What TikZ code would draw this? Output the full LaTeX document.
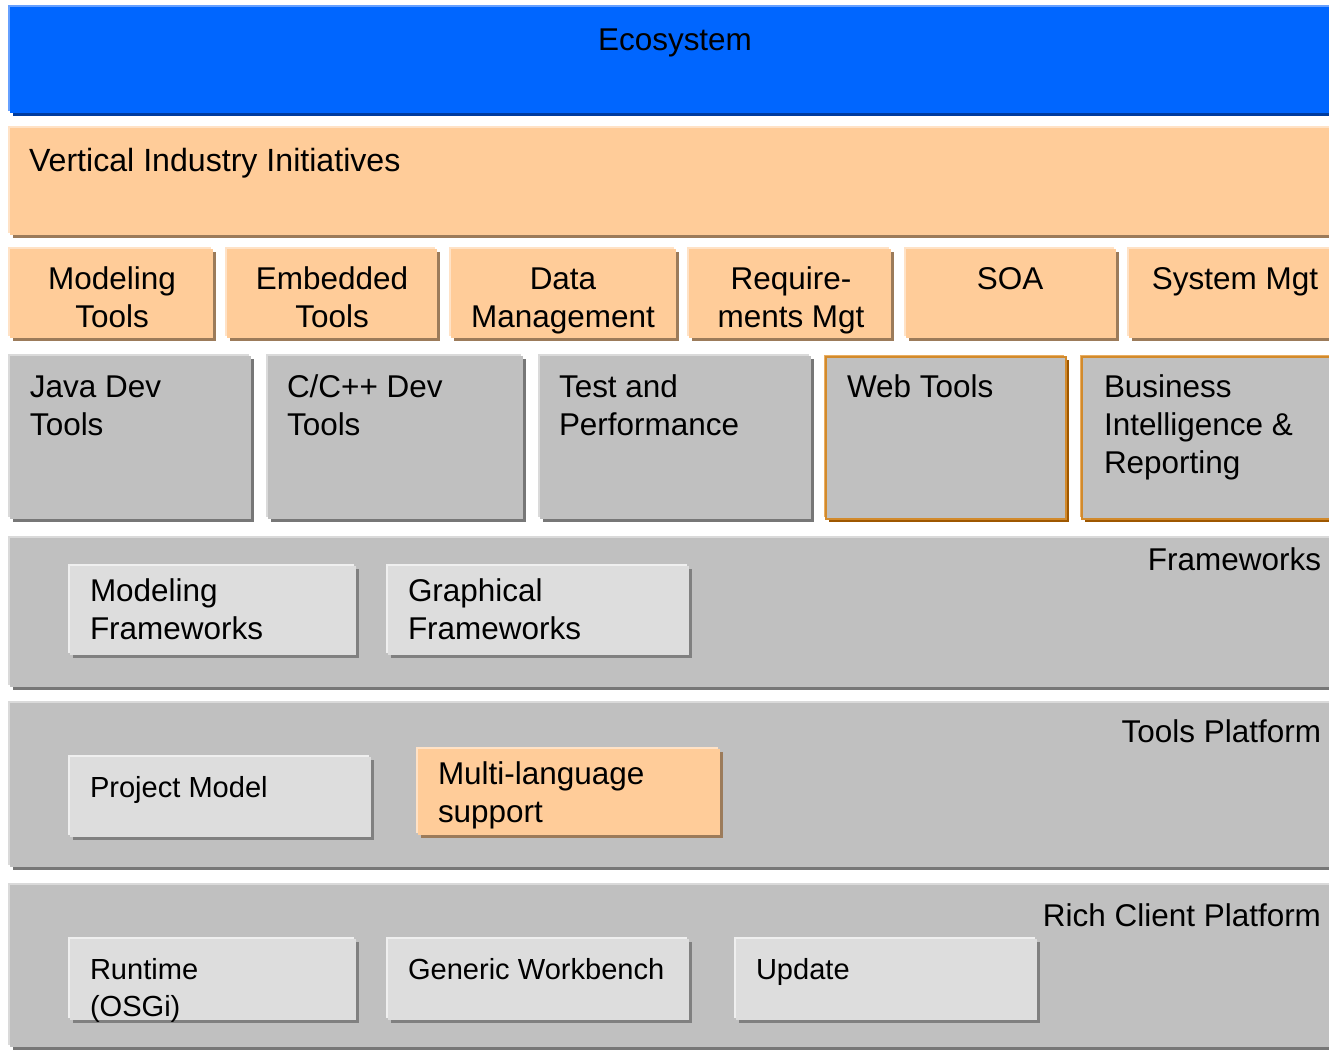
\documentclass[tikz,border=0pt]{standalone}
\usepackage{fontspec}
\setmainfont{Liberation Sans}
\usetikzlibrary{fit,shadows}

\definecolor{blueface}{HTML}{0066FF}
\definecolor{bluelight}{HTML}{66A0FF}
\definecolor{bluedark}{HTML}{003C9E}
\definecolor{orface}{HTML}{FFCC99}
\definecolor{orlight}{HTML}{FFE2C6}
\definecolor{ordark}{HTML}{9C7B5A}
\definecolor{greyface}{HTML}{C0C0C0}
\definecolor{greylight}{HTML}{DADADA}
\definecolor{greydark}{HTML}{777777}
\definecolor{paleface}{HTML}{DDDDDD}
\definecolor{palelight}{HTML}{EFEFEF}
\definecolor{paledark}{HTML}{808080}
\definecolor{rimlight}{HTML}{E9AE62}
\definecolor{rim}{HTML}{D28A2C}
\definecolor{rimdark}{HTML}{9E5700}

\newcommand\txtbig{\fontsize{23.6pt}{28.5pt}\selectfont}
\newcommand\txthuge{\fontsize{24.1pt}{29pt}\selectfont}
\newcommand\txtsmall{\fontsize{21.8pt}{27.75pt}\selectfont}

\tikzset{
  slab/.style n args={3}{inner sep=0pt, outer sep=0pt, fill=#1,
    general shadow={shadow xshift=-1.5pt, shadow yshift=1.5pt, fill=#2},
    general shadow={shadow xshift=2.25pt, shadow yshift=-2.25pt, fill=#3}},
  bluebox/.style={slab={blueface}{bluelight}{bluedark}},
  orbox/.style={slab={orface}{orlight}{ordark}},
  greybox/.style={slab={greyface}{greylight}{greydark}},
  palebox/.style={slab={paleface}{palelight}{paledark}},
  rimbox/.style={slab={greyface}{rimlight}{rimdark}, draw=rim, line width=1.2pt},
  lbl/.style={inner sep=0pt, outer sep=0pt, text=black},
  lblbig/.style={lbl, font=\txtbig},
  lblhuge/.style={lbl, font=\txthuge},
  lblsmall/.style={lbl, font=\txtsmall},
}

\begin{document}
\begin{tikzpicture}[x=0.75pt, y=-0.75pt]
\useasboundingbox (0,0) rectangle (1329,1050);
\clip (0,0) rectangle (1329,1050);

% top layers
\node[bluebox, fit={(10,7) (1345,113)}] (eco) {};
\node[lblbig, anchor=north] (ecot) at (675,23.4) {\strut Ecosystem};

\node[orbox, fit={(10,128) (1345,235)}] (vert) {};
\node[lblhuge, anchor=north west] (vertt) at (29,144) {\strut Vertical Industry Initiatives};

% vertical tool projects
\node[orbox, fit={(10,249) (213,338)}] (mt) {};
\node[orbox, fit={(227,249) (437,338)}] (et) {};
\node[orbox, fit={(451,249) (676,338)}] (dm) {};
\node[orbox, fit={(689,249) (891,338)}] (rm) {};
\node[orbox, fit={(906,249) (1116,338)}] (soa) {};
\node[orbox, fit={(1129,249) (1345,338)}] (sm) {};
\node[lblbig, anchor=north, align=center] (mtt) at (112,262.4) {\strut Modeling\\\strut Tools};
\node[lblbig, anchor=north, align=center] (ett) at (332,262.4) {\strut Embedded\\\strut Tools};
\node[lblbig, anchor=north, align=center] (dmt) at (563,262.4) {\strut Data\\\strut Management};
\node[lblbig, anchor=north, align=center] (rmt) at (791,262.4) {\strut Require-\\\strut ments Mgt};
\node[lblbig, anchor=north, align=center] (soat) at (1010,262.4) {\strut SOA};
\node[lblbig, anchor=north, align=center] (smt) at (1235,262.4) {\strut System Mgt};

% development tools
\node[greybox, fit={(10,356) (251,519)}] (jdt) {};
\node[greybox, fit={(268,356) (523,519)}] (cdt) {};
\node[greybox, fit={(540,356) (811,519)}] (tp) {};
\node[rimbox, fit={(826,357) (1066,519)}] (web) {};
\node[rimbox, fit={(1082,357) (1345,519)}] (bi) {};
\node[lblbig, anchor=north west, align=left] (jdtt) at (30,370.4) {\strut Java Dev\\\strut Tools};
\node[lblbig, anchor=north west, align=left] (cdtt) at (287,370.4) {\strut C/C++ Dev\\\strut Tools};
\node[lblbig, anchor=north west, align=left] (tpt) at (559,370.4) {\strut Test and\\\strut Performance};
\node[lblbig, anchor=north west, align=left] (webt) at (847,370.4) {\strut Web Tools};
\node[lblbig, anchor=north west, align=left] (bit) at (1104,370.4) {\strut Business\\\strut Intelligence \&\\\strut Reporting};

% frameworks
\node[greybox, fit={(10,538) (1345,687)}] (fw) {};
\node[lblbig, anchor=north east] (fwt) at (1321,543.4) {\strut Frameworks};
\node[palebox, fit={(70,566) (356,655)}] (mf) {};
\node[palebox, fit={(388,566) (689,655)}] (gf) {};
\node[lblbig, anchor=north west, align=left] (mft) at (90,574.4) {\strut Modeling\\\strut Frameworks};
\node[lblbig, anchor=north west, align=left] (gft) at (408,574.4) {\strut Graphical\\\strut Frameworks};

% tools platform
\node[greybox, fit={(10,703) (1345,867)}] (tpl) {};
\node[lblbig, anchor=north east] (tplt) at (1321,715.4) {\strut Tools Platform};
\node[palebox, fit={(70,757) (371,837)}] (pm) {};
\node[orbox, fit={(418,749) (720,835)}] (ml) {};
\node[lblsmall, anchor=north west] (pmt) at (90,772) {\strut Project Model};
\node[lblbig, anchor=north west, align=left] (mlt) at (438,757.4) {\strut Multi-language\\\strut support};

% rich client platform
\node[greybox, fit={(10,885) (1345,1047)}] (rcp) {};
\node[lblbig, anchor=north east] (rcpt) at (1321,899.4) {\strut Rich Client Platform};
\node[palebox, fit={(70,939) (356,1020)}] (rt) {};
\node[palebox, fit={(388,939) (689,1020)}] (gw) {};
\node[palebox, fit={(736,939) (1037,1020)}] (up) {};
\node[lblsmall, anchor=north west, align=left] (rtt) at (90,954) {\strut Runtime\\\strut (OSGi)};
\node[lblsmall, anchor=north west] (gwt) at (408,954) {\strut Generic Workbench};
\node[lblsmall, anchor=north west] (upt) at (756,954) {\strut Update};
\end{tikzpicture}
\end{document}
